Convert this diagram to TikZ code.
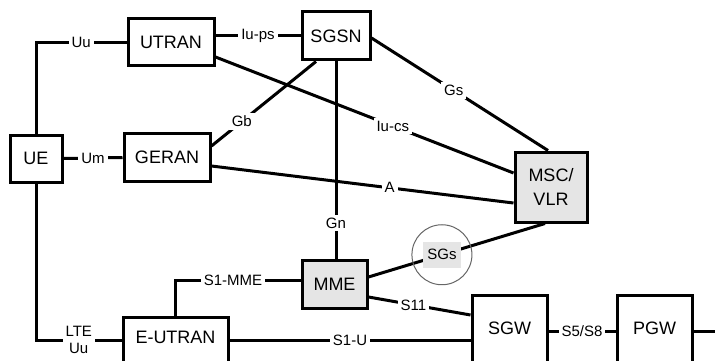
\documentclass[tikz,border=0pt]{standalone}
\usepackage{fontspec}
\setmainfont{Liberation Sans}
\usepackage{xcolor}
\usepackage{tikz}
\definecolor{boxgray}{RGB}{229,229,229}

\begin{document}
\begin{tikzpicture}[x=1pt, y=-1pt,
        box/.style={draw, line width=3pt, inner sep=0pt, fill=white, align=center, font=\fontsize{18}{24}\selectfont},
        cutbox/.style={box, anchor=north, text depth=45pt},
        ifc/.style={fill=white, inner sep=3pt, align=center, font=\fontsize{15}{17}\selectfont},
        link/.style={line width=3pt}]
        \useasboundingbox (0, 0) rectangle (715, 361);
        \clip (0, 0) rectangle (715, 361);

        % network elements
        \node[box, minimum width=52pt, minimum height=47pt] (ue) at (36, 158.5) {UE};
        \node[box, minimum width=86pt, minimum height=47pt] (utran) at (171, 42.5) {UTRAN};
        \node[box, minimum width=86pt, minimum height=48pt] (geran) at (167, 157.5) {GERAN};
        \node[box, minimum width=68pt, minimum height=48pt] (sgsn) at (336, 36) {SGSN};
        \node[box, fill=boxgray, minimum width=72pt, minimum height=70pt] (msc) at (551, 187) {MSC/\\VLR};
        \node[box, fill=boxgray, minimum width=65pt, minimum height=48pt] (mme) at (334.5, 284) {MME};
        \node[cutbox, minimum width=105pt, text height=25.5pt] (eutran) at (175.5, 316) {E-UTRAN};
        \node[cutbox, minimum width=75pt, text height=38.5pt] (sgw) at (509.5, 294) {SGW};
        \node[cutbox, minimum width=75pt, text height=38.5pt] (pgw) at (654.5, 294) {PGW};
        \coordinate (edge) at (715, 332);

        % radio side
        \draw[link] (ue.north) |- node[ifc, pos=0.75] {Uu} (utran.west);
        \draw[link] (ue.east) -- node[ifc] {Um} (geran.west);
        \draw[link] (ue.south) |- node[ifc, pos=0.75] {LTE\\Uu} (eutran.mid west);

        % 2G/3G core
        \draw[link] (utran.east |- sgsn.west) -- node[ifc] {Iu-ps} (sgsn.west);
        \draw[link] ([yshift=-14.5pt]utran.east) -- node[ifc, pos=0.595] {Iu-cs} ([yshift=14pt]msc.west);
        \draw[link] ([xshift=-20pt]sgsn.south) -- node[ifc, pos=0.71] {Gb} ([yshift=11.5pt]geran.east);
        \draw[link] ([yshift=-8.5pt]geran.east) -- node[ifc, pos=0.59] {A} ([yshift=-16pt]msc.west);
        \draw[link] ([yshift=-2pt]sgsn.east) -- node[ifc, pos=0.466] {Gs} ([xshift=-3pt]msc.north);
        \draw[link] (sgsn.south) -- node[ifc, pos=0.82] {Gn} (sgsn.south |- mme.north);

        % EPC
        \draw[link] (eutran.north) |- node[ifc, pos=0.73] {S1-MME} ([yshift=4pt]mme.west);
        \draw[link] ([yshift=7pt]mme.east) -- node[ifc, fill=boxgray, minimum width=38pt, minimum height=26pt, inner sep=0pt, pos=0.416] (sgs) {SGs} ([xshift=-6pt]msc.south);
        \draw[black!60, line width=1pt] (sgs) circle (30pt);
        \draw[link] ([yshift=-13pt]mme.east) -- node[ifc, pos=0.44] {S11} ([yshift=-21pt]sgw.north west);
        \draw[link] (eutran.mid east) -- node[ifc] {S1-U} (eutran.mid east -| sgw.west);
        \draw[link] (sgw.mid east) -- node[ifc] {S5/S8} (sgw.mid east -| pgw.west);
        \draw[link] (pgw.mid east) -- (pgw.mid east -| edge);
\end{tikzpicture}
\end{document}
